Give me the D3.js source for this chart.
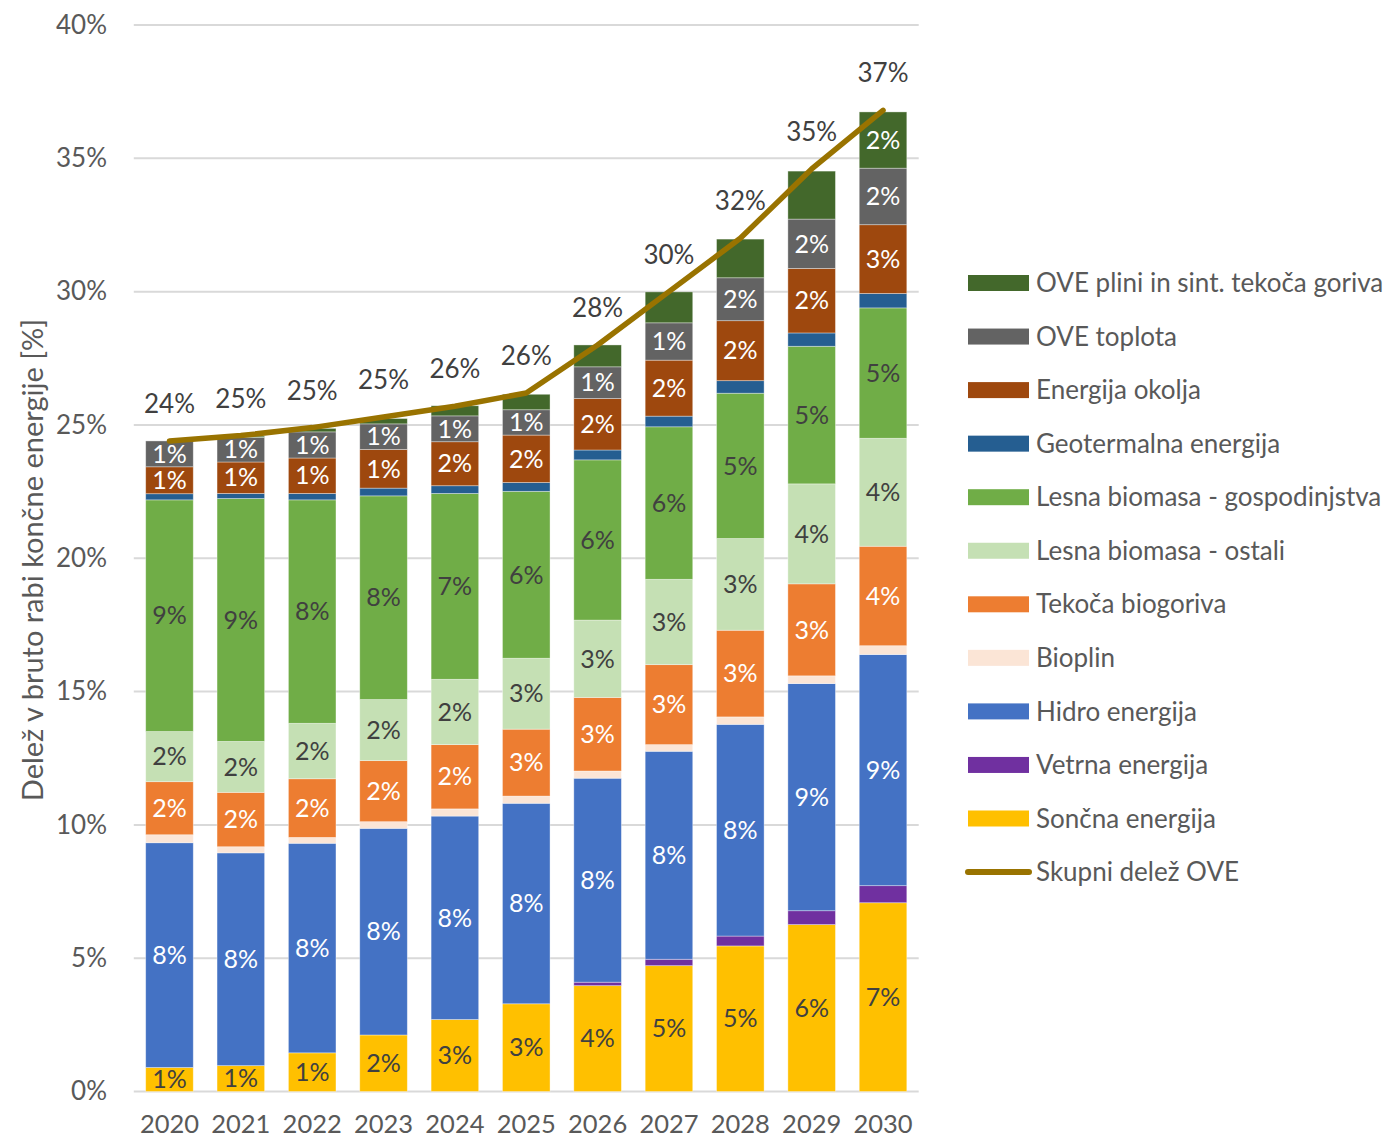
<!DOCTYPE html>
<html>
<head>
<meta charset="utf-8">
<script src="https://cdn.jsdelivr.net/npm/d3@7"></script>
<style>
  html, body { margin: 0; padding: 0; background: #fff; }
  svg { display: block; }
  text { font-family: Lato, "Open Sans", sans-serif; }
</style>
</head>
<body>
<svg id="chart" width="1391" height="1139"></svg>
<script>
// Years on the x axis
const years = ["2020","2021","2022","2023","2024","2025","2026","2027","2028","2029","2030"];

// Shares of gross final energy consumption by source [%], stacked bottom to top
const soncna     = [0.90, 0.97, 1.45, 2.12, 2.70, 3.29, 3.97, 4.72, 5.46, 6.26, 7.08];
const vetrna     = [0.00, 0.00, 0.00, 0.00, 0.00, 0.00, 0.13, 0.24, 0.37, 0.52, 0.64];
const hidro      = [8.43, 7.98, 7.86, 7.75, 7.63, 7.52, 7.65, 7.80, 7.94, 8.52, 8.67];
const bioplin    = [0.30, 0.23, 0.22, 0.25, 0.27, 0.27, 0.27, 0.25, 0.28, 0.29, 0.33];
const biogoriva  = [1.99, 2.04, 2.20, 2.29, 2.41, 2.51, 2.76, 3.00, 3.25, 3.45, 3.73];
const lesnaOst   = [1.88, 1.91, 2.08, 2.29, 2.45, 2.66, 2.90, 3.20, 3.44, 3.75, 4.05];
const lesnaGosp  = [8.69, 9.11, 8.38, 7.64, 6.97, 6.26, 6.01, 5.72, 5.45, 5.16, 4.89];
const geoterm    = [0.23, 0.19, 0.24, 0.29, 0.29, 0.33, 0.37, 0.40, 0.47, 0.50, 0.54];
const okolja     = [1.01, 1.18, 1.33, 1.45, 1.65, 1.78, 1.93, 2.10, 2.25, 2.42, 2.58];
const toplota    = [0.97, 0.92, 0.98, 0.96, 0.97, 0.95, 1.19, 1.40, 1.61, 1.85, 2.12];
const plini      = [0.00, 0.05, 0.13, 0.20, 0.38, 0.58, 0.82, 1.16, 1.45, 1.80, 2.11];

// Total renewable share (line)
const skupni     = [24.4, 24.6, 24.9, 25.3, 25.7, 26.2, 28.0, 30.0, 32.0, 34.6, 36.8];

// Y axis ticks
const yTicks = [0, 5, 10, 15, 20, 25, 30, 35, 40];

// Series definitions (bottom to top)
const series = [
  { key: "soncna",    name: "Sončna energija",                 values: soncna,    color: "#FFC000", text: "#404040" },
  { key: "vetrna",    name: "Vetrna energija",                 values: vetrna,    color: "#7030A0", text: "#ffffff" },
  { key: "hidro",     name: "Hidro energija",                  values: hidro,     color: "#4472C4", text: "#ffffff" },
  { key: "bioplin",   name: "Bioplin",                         values: bioplin,   color: "#FBE5D6", text: "#404040" },
  { key: "biogoriva", name: "Tekoča biogoriva",                values: biogoriva, color: "#ED7D31", text: "#ffffff" },
  { key: "lesnaOst",  name: "Lesna biomasa - ostali",          values: lesnaOst,  color: "#C5E0B4", text: "#404040" },
  { key: "lesnaGosp", name: "Lesna biomasa - gospodinjstva",   values: lesnaGosp, color: "#70AD47", text: "#404040" },
  { key: "geoterm",   name: "Geotermalna energija",            values: geoterm,   color: "#255E91", text: "#ffffff" },
  { key: "okolja",    name: "Energija okolja",                 values: okolja,    color: "#9E480E", text: "#ffffff" },
  { key: "toplota",   name: "OVE toplota",                     values: toplota,   color: "#636363", text: "#ffffff" },
  { key: "plini",     name: "OVE plini in sint. tekoča goriva", values: plini,    color: "#43682B", text: "#ffffff" }
];
const lineName = "Skupni delež OVE";
const lineColor = "#997300";
// Gas/synthetic fuel segments carry a value label only in the final year
const pliniLabelYears = ["2030"];

const svg = d3.select("#chart");
const plot = { left: 133.8, right: 918.7, top: 25, bottom: 1091.5 };

const x = d3.scaleBand().domain(years).range([plot.left, plot.right])
  .paddingInner(1/3).paddingOuter(1/6);
const y = d3.scaleLinear().domain([0, 40]).range([plot.bottom, plot.top]);

// Gridlines
svg.append("g").selectAll("line").data(yTicks).join("line")
  .attr("x1", plot.left).attr("x2", plot.right)
  .attr("y1", d => y(d)).attr("y2", d => y(d))
  .attr("stroke", "#D9D9D9").attr("stroke-width", 2);

// Y axis labels
const yAxis = d3.axisLeft(y).tickValues(yTicks).tickFormat(d => d + "%").tickSize(0).tickPadding(0);
const gy = svg.append("g").attr("transform", `translate(107,0)`).call(yAxis);
gy.select(".domain").remove();
gy.selectAll("text").attr("font-size", 26).attr("fill", "#595959")
  .style("font-family", "Lato, 'Open Sans', sans-serif");

// X axis labels
const xAxis = d3.axisBottom(x).tickSize(0).tickPadding(0);
const gx = svg.append("g").attr("transform", `translate(0,1115)`).call(xAxis);
gx.select(".domain").remove();
gx.selectAll("text").attr("font-size", 25.5).attr("fill", "#595959")
  .style("font-family", "Lato, 'Open Sans', sans-serif");

// Y axis title
svg.append("text")
  .attr("transform", `translate(43,560) rotate(-90)`)
  .attr("text-anchor", "middle")
  .attr("font-size", 29).attr("fill", "#595959")
  .text("Delež v bruto rabi končne energije [%]");

// Stacked data
const table = years.map((yr, i) => {
  const row = { year: yr };
  series.forEach(s => { row[s.key] = s.values[i]; });
  return row;
});
const stack = d3.stack().keys(series.map(s => s.key));
const stacked = stack(table);

const layers = svg.append("g").selectAll("g").data(stacked).join("g")
  .attr("fill", (d, i) => series[i].color);

layers.selectAll("rect").data(d => d).join("rect")
  .attr("x", d => x(d.data.year))
  .attr("width", x.bandwidth())
  .attr("y", d => y(d[1]))
  .attr("height", d => Math.max(0, y(d[0]) - y(d[1])))
  .attr("stroke", "#ffffff").attr("stroke-opacity", 0.45).attr("stroke-width", 0.8);

// Segment value labels
const labelG = svg.append("g");
stacked.forEach((layer, i) => {
  const s = series[i];
  layer.forEach(d => {
    const v = d[1] - d[0];
    const yr = d.data.year;
    if (v < 0.85) return;
    if (s.key === "plini" && !pliniLabelYears.includes(yr)) return;
    labelG.append("text")
      .attr("x", x(yr) + x.bandwidth() / 2)
      .attr("y", y((d[0] + d[1]) / 2))
      .attr("dy", "0.35em")
      .attr("text-anchor", "middle")
      .attr("font-size", 25)
      .attr("fill", s.text)
      .text(Math.round(v) + "%");
  });
});

// Total share line
const line = d3.line()
  .x((d, i) => x(years[i]) + x.bandwidth() / 2)
  .y(d => y(d));
svg.append("path").datum(skupni)
  .attr("d", line)
  .attr("fill", "none").attr("stroke", lineColor)
  .attr("stroke-width", 5.5).attr("stroke-linecap", "round").attr("stroke-linejoin", "round");

// Line value labels
svg.append("g").selectAll("text").data(skupni).join("text")
  .attr("x", (d, i) => x(years[i]) + x.bandwidth() / 2)
  .attr("y", d => y(d) - 28)
  .attr("text-anchor", "middle")
  .attr("font-size", 26).attr("fill", "#404040")
  .text(d => Math.round(d) + "%");

// Legend
const legendItems = series.slice().reverse().map(s => ({ name: s.name, color: s.color, type: "rect" }))
  .concat([{ name: lineName, color: lineColor, type: "line" }]);
const lg = svg.append("g");
legendItems.forEach((it, i) => {
  const cy = 283 + i * 53.55;
  if (it.type === "rect") {
    lg.append("rect").attr("x", 968).attr("y", cy - 8).attr("width", 61).attr("height", 16).attr("fill", it.color);
  } else {
    lg.append("line").attr("x1", 968).attr("x2", 1029).attr("y1", cy).attr("y2", cy)
      .attr("stroke", it.color).attr("stroke-width", 6).attr("stroke-linecap", "round");
  }
  lg.append("text").attr("x", 1036).attr("y", cy).attr("dy", "0.35em")
    .attr("font-size", 26).attr("fill", "#595959").text(it.name);
});
</script>
</body>
</html>
